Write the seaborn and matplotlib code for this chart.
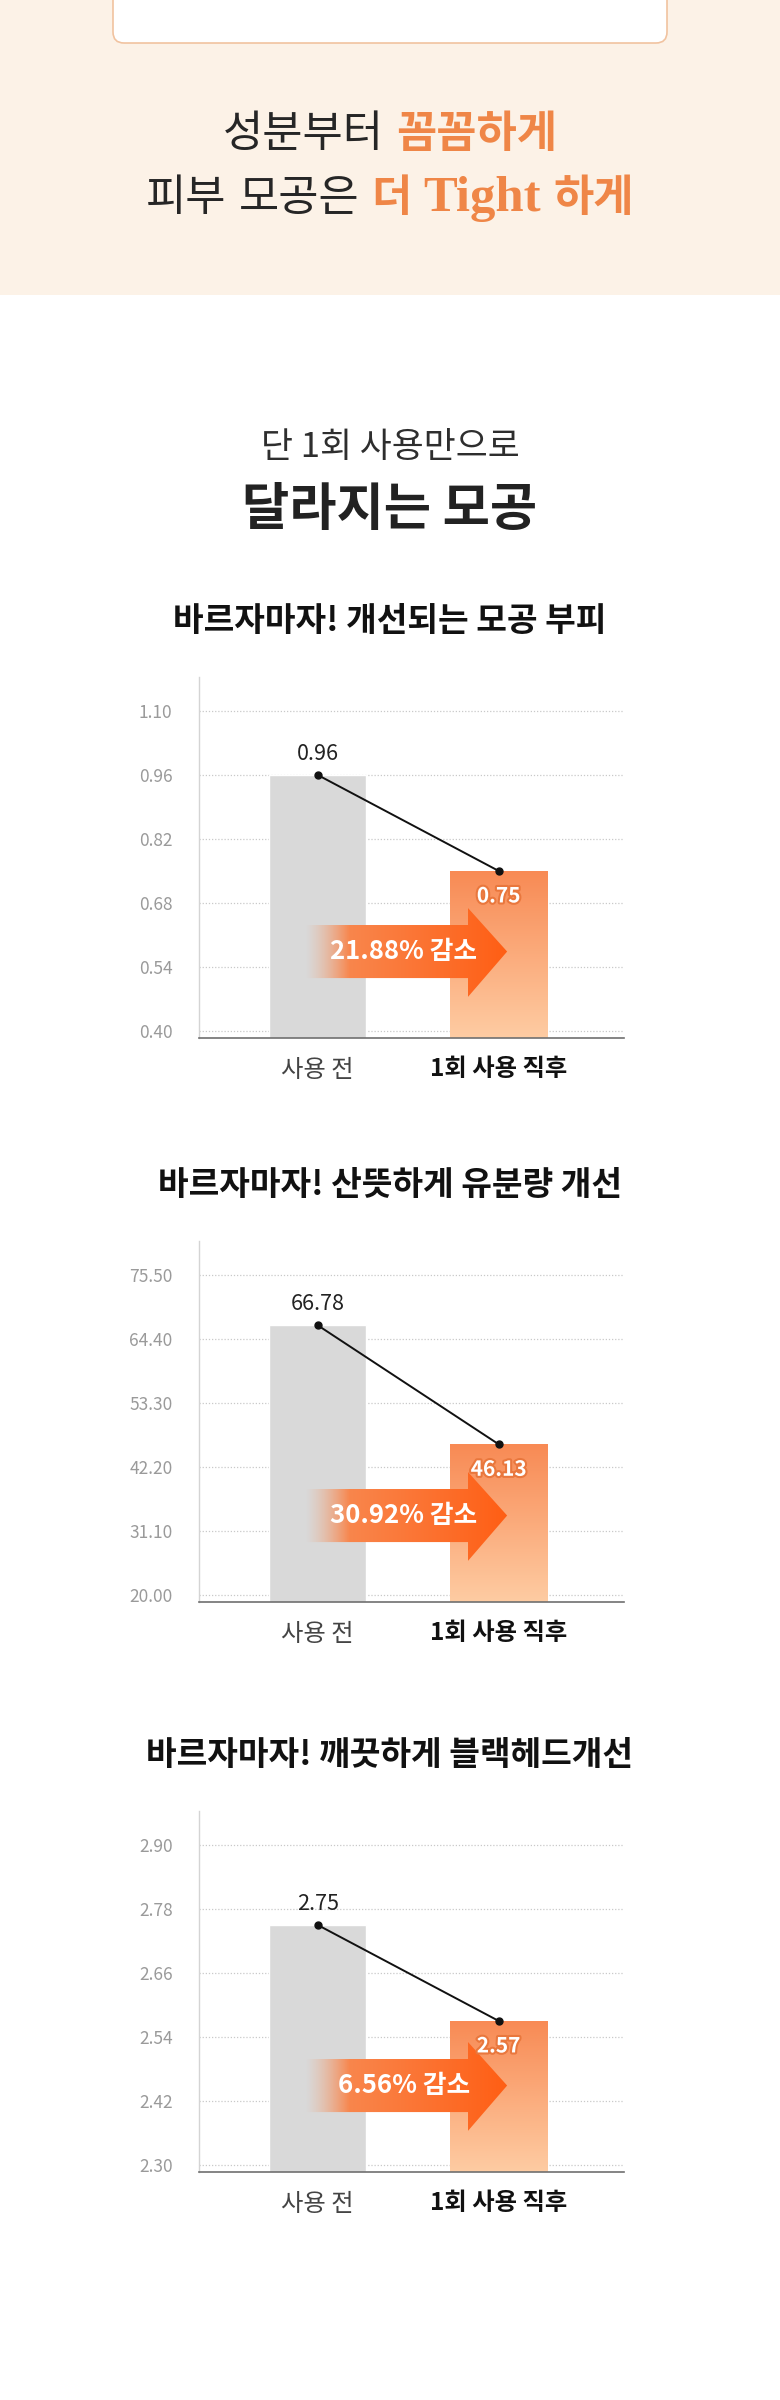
import numpy as np
import pandas as pd
import matplotlib
matplotlib.use('Agg')
import matplotlib.pyplot as plt
import matplotlib.patheffects as pe
from matplotlib.patches import FancyBboxPatch, Polygon, Rectangle
from matplotlib.transforms import IdentityTransform
from matplotlib.colors import to_rgb
import seaborn as sns

# ---- data ----
categories = ['사용 전', '1회 사용 직후']

titles = ['바르자마자! 개선되는 모공 부피',
          '바르자마자! 산뜻하게 유분량 개선',
          '바르자마자! 깨끗하게 블랙헤드개선']

pore_volume = [0.96, 0.75]
sebum = [66.78, 46.13]
blackhead = [2.75, 2.57]

pore_ticks = [0.40, 0.54, 0.68, 0.82, 0.96, 1.10]
sebum_ticks = [20.00, 31.10, 42.20, 53.30, 64.40, 75.50]
blackhead_ticks = [2.30, 2.42, 2.54, 2.66, 2.78, 2.90]

reductions = ['21.88% 감소', '30.92% 감소', '6.56% 감소']

sns.set_theme(style='white')
plt.rcParams['font.family'] = ['Noto Sans CJK KR', 'DejaVu Sans']

W, H = 780, 2400
fig = plt.figure(figsize=(W / 100, H / 100), dpi=100)
fig.patch.set_facecolor('white')

ORANGE_TXT = '#ef8647'
DARK = '#262626'


def fy(y):
    return 1 - y / H


# peach header band and the cut-off white card
fig.add_artist(Rectangle((0, fy(295)), 1, 295 / H, transform=fig.transFigure,
                         facecolor='#fcf2e7', edgecolor='none', zorder=0))
fig.add_artist(FancyBboxPatch((113, H - 43), 554, 90,
                              boxstyle='round,pad=0,rounding_size=11',
                              transform=IdentityTransform(),
                              facecolor='white', edgecolor='#f1c3a0', lw=1.2, zorder=1))


def rich_line(y_base, segments, gap):
    renderer = fig.canvas.get_renderer()
    texts, widths = [], []
    for s, kw in segments:
        t = fig.text(0, fy(y_base), s, ha='left', va='baseline', **kw)
        texts.append(t)
        widths.append(t.get_window_extent(renderer).width)
    total = sum(widths) + gap * (len(texts) - 1)
    x = W / 2 - total / 2
    for t, w in zip(texts, widths):
        t.set_x(x / W)
        x += w + gap


hl = 31.5
rich_line(147, [('성분부터', dict(fontsize=hl, color=DARK, weight='medium')),
                ('꼼꼼하게', dict(fontsize=hl, color=ORANGE_TXT, weight='bold'))], gap=12)
rich_line(211, [('피부', dict(fontsize=hl, color=DARK, weight='medium')),
                ('모공은', dict(fontsize=hl, color=DARK, weight='medium')),
                ('더', dict(fontsize=hl, color=ORANGE_TXT, weight='bold')),
                ('Tight', dict(fontsize=hl + 5, color=ORANGE_TXT, weight='bold',
                               family=['Liberation Serif', 'DejaVu Serif'])),
                ('하게', dict(fontsize=hl, color=ORANGE_TXT, weight='bold'))], gap=12)

fig.text(0.5, fy(448), '단 1회 사용만으로', ha='center', va='center',
         fontsize=25, color='#2e2e2e', weight='medium')
fig.text(0.5, fy(510), '달라지는 모공', ha='center', va='center',
         fontsize=37, color='#222222', weight='bold')


def draw_chart(grid_top, title, values, ticks, reduction):
    step = ticks[1] - ticks[0]
    ax_top = grid_top - 34
    ax_h = 361
    ax = fig.add_axes([199 / W, 1 - (ax_top + ax_h) / H, 425 / W, ax_h / H])

    fig.text(0.5, fy(grid_top - 89), title, ha='center', va='center',
             fontsize=24, color='#111111', weight='bold')

    df = pd.DataFrame({'구분': categories, '값': values})
    sns.barplot(data=df, x='구분', y='값', hue='구분', palette=['#d9d9d9', '#f99160'],
                width=0.536, saturation=1, legend=False, ax=ax, zorder=2)

    xlim = (-0.655, 1.692)
    ylim = (ticks[0] - 0.11 * step, ticks[-1] + 0.53 * step)
    ax.set_xlim(*xlim)
    ax.set_ylim(*ylim)

    # gradient on the "after" bar
    bar = max(ax.patches, key=lambda p: p.get_x())
    top_c, bot_c = np.array(to_rgb('#f88a54')), np.array(to_rgb('#fecca3'))
    t = np.linspace(0, 1, 256)[:, None, None]
    grad = top_c * (1 - t) + bot_c * t
    im = ax.imshow(grad, extent=[bar.get_x(), bar.get_x() + bar.get_width(), ylim[0], bar.get_height()],
                   origin='upper', aspect='auto', zorder=2.5, interpolation='bilinear')
    im.set_clip_path(bar)

    # connecting line with dots
    ax.plot([0, 1], values, color='#111111', lw=1.4, marker='o', ms=5, zorder=5)

    ax.annotate(f'{values[0]:.2f}', (0, values[0]), xytext=(0, 15), textcoords='offset points',
                ha='center', va='center', fontsize=15.5, color='#222222', zorder=6)
    ax.annotate(f'{values[1]:.2f}', (1, values[1]), xytext=(0, -18), textcoords='offset points',
                ha='center', va='center', fontsize=15, color='white', weight='bold', zorder=6,
                path_effects=[pe.withStroke(linewidth=3, foreground='#e9773d')])

    # gradient arrow (axes fractions mapped to data)
    def a2d(fx_, fy_):
        return xlim[0] + fx_ * (xlim[1] - xlim[0]), ylim[0] + fy_ * (ylim[1] - ylim[0])

    xs, xb, xt = 0.249, 0.633, 0.725
    b_lo, b_hi, h_lo, h_hi = 0.166, 0.313, 0.114, 0.360
    mid = (b_lo + b_hi) / 2
    pts = [a2d(xs, b_lo), a2d(xb, b_lo), a2d(xb, h_lo), a2d(xt, mid),
           a2d(xb, h_hi), a2d(xb, b_hi), a2d(xs, b_hi)]
    poly = Polygon(pts, closed=True, facecolor='none', edgecolor='none', zorder=4)
    ax.add_patch(poly)
    u = np.linspace(0, 1, 400)
    c0, c1 = np.array(to_rgb('#f7915c')), np.array(to_rgb('#ff5e14'))
    rgb = c0[None, :] * (1 - u[:, None]) + c1[None, :] * u[:, None]
    alpha = np.clip(u / 0.22, 0, 1) ** 1.3
    arr = np.concatenate([rgb, alpha[:, None]], axis=1)[None, :, :]
    x0, y0 = a2d(xs, h_lo)
    x1, y1 = a2d(xt, h_hi)
    im2 = ax.imshow(arr, extent=[x0, x1, y0, y1], aspect='auto', zorder=4, interpolation='bilinear')
    im2.set_clip_path(poly)
    tx, ty = a2d(0.482, mid)
    ax.text(tx, ty, reduction, ha='center', va='center', fontsize=18.5, color='white',
            weight='bold', zorder=6)

    ax.set_xlim(*xlim)
    ax.set_ylim(*ylim)

    ax.set_yticks(ticks)
    ax.set_yticklabels([f'{v:.2f}' for v in ticks])
    ax.yaxis.grid(True, linestyle=(0, (1, 1.5)), color='#c9c9c9', lw=0.9)
    ax.xaxis.grid(False)
    ax.set_axisbelow(True)
    ax.set_xlabel('')
    ax.set_ylabel('')
    ax.set_facecolor('none')
    for s in ['top', 'right']:
        ax.spines[s].set_visible(False)
    ax.spines['left'].set_color('#d4d4d4')
    ax.spines['left'].set_linewidth(1.0)
    ax.spines['bottom'].set_color('#707070')
    ax.spines['bottom'].set_linewidth(1.2)
    ax.tick_params(axis='y', length=0, pad=19, labelcolor='#9a9a9a', labelsize=12.5)
    ax.tick_params(axis='x', length=0, pad=14)
    labels = ax.get_xticklabels()
    labels[0].set_fontsize(17.5)
    labels[0].set_color('#444444')
    labels[1].set_fontsize(17.5)
    labels[1].set_color('#111111')
    labels[1].set_fontweight('bold')


draw_chart(711, titles[0], pore_volume, pore_ticks, reductions[0])
draw_chart(1275, titles[1], sebum, sebum_ticks, reductions[1])
draw_chart(1845, titles[2], blackhead, blackhead_ticks, reductions[2])

fig.savefig('out.png', dpi=100, facecolor='white')
